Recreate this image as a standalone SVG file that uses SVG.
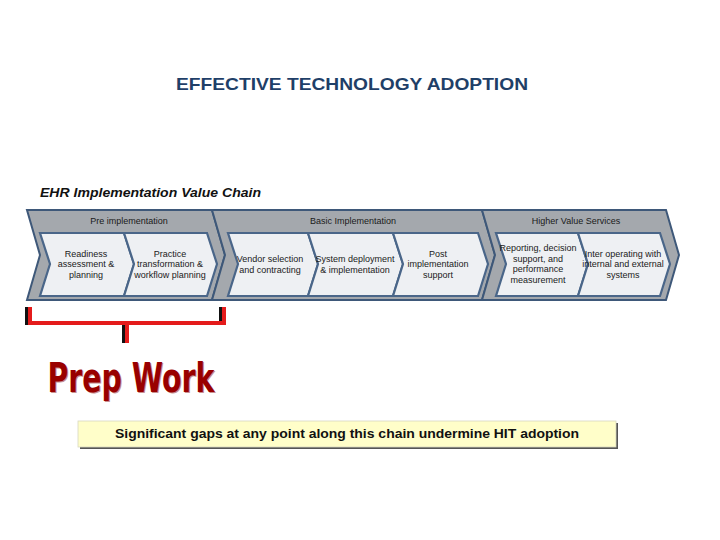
<svg xmlns="http://www.w3.org/2000/svg" width="720" height="540" viewBox="0 0 720 540">
<style>
.outer{fill:#a4a8ad;stroke:#3e5879;stroke-width:2;stroke-linejoin:miter}
.inner{fill:#eef0f3;stroke:#4a6689;stroke-width:2.2;stroke-linejoin:miter}
.hdr{font-family:"Liberation Sans",Arial,sans-serif;font-size:9px;fill:#1a1a1a;text-anchor:middle}
.lbl{font-family:"Liberation Sans",Arial,sans-serif;font-size:9px;fill:#1a1a1a;text-anchor:middle}
.red{stroke:#e41b1b;stroke-width:4;fill:none}
.shd{stroke:#111;stroke-width:4;fill:none}
</style>
<rect width="720" height="540" fill="#ffffff"/>
<g id="title">
<text x="352" y="90" font-family="Liberation Sans,Arial,sans-serif" font-size="17" font-weight="bold" fill="#1f3f68" text-anchor="middle" textLength="352" lengthAdjust="spacingAndGlyphs">EFFECTIVE TECHNOLOGY ADOPTION</text>
</g>
<g id="subtitle">
<text x="40" y="197" font-family="Liberation Sans,Arial,sans-serif" font-size="13" font-weight="bold" font-style="italic" fill="#111" textLength="221" lengthAdjust="spacingAndGlyphs">EHR Implementation Value Chain</text>
</g>
<g id="pre-implementation">
<path class="outer" d="M27,210 L212,210 L225,255 L212,300 L27,300 L40,255 Z"/>
<text class="hdr" x="129" y="224">Pre implementation</text>
</g>
<g id="basic-implementation">
<path class="outer" d="M212,210 L482,210 L495,255 L482,300 L212,300 L225,255 Z"/>
<text class="hdr" x="353" y="224">Basic Implementation</text>
</g>
<g id="higher-value">
<path class="outer" d="M482,210 L666,210 L679,255 L666,300 L482,300 L495,255 Z"/>
<text class="hdr" x="576" y="224">Higher Value Services</text>
</g>
<g id="readiness">
<path class="inner" d="M40,233 L124,233 L134,264 L124,296 L40,296 L50,264 Z"/>
<text class="lbl"><tspan x="86" y="257">Readiness</tspan><tspan x="86" y="267">assessment &amp;</tspan><tspan x="86" y="278">planning</tspan></text>
</g>
<g id="practice">
<path class="inner" d="M124,233 L207,233 L217,264 L207,296 L124,296 L134,264 Z"/>
<text class="lbl"><tspan x="170" y="257">Practice</tspan><tspan x="170" y="267">transformation &amp;</tspan><tspan x="170" y="278">workflow planning</tspan></text>
</g>
<g id="vendor">
<path class="inner" d="M228,233 L308,233 L318,264 L308,296 L228,296 L238,264 Z"/>
<text class="lbl"><tspan x="270" y="262">Vendor selection</tspan><tspan x="270" y="273">and contracting</tspan></text>
</g>
<g id="system">
<path class="inner" d="M308,233 L393,233 L403,264 L393,296 L308,296 L318,264 Z"/>
<text class="lbl"><tspan x="355" y="262">System deployment</tspan><tspan x="355" y="273">&amp; implementation</tspan></text>
</g>
<g id="post">
<path class="inner" d="M393,233 L478,233 L488,264 L478,296 L393,296 L403,264 Z"/>
<text class="lbl"><tspan x="438" y="257">Post</tspan><tspan x="438" y="267">implementation</tspan><tspan x="438" y="278">support</tspan></text>
</g>
<g id="reporting">
<path class="inner" d="M496,233 L578,233 L588,264 L578,296 L496,296 L506,264 Z"/>
<text class="lbl"><tspan x="538" y="251">Reporting, decision</tspan><tspan x="538" y="262">support, and</tspan><tspan x="538" y="272">performance</tspan><tspan x="538" y="283">measurement</tspan></text>
</g>
<g id="interop">
<path class="inner" d="M578,233 L660,233 L670,264 L660,296 L578,296 L588,264 Z"/>
<text class="lbl"><tspan x="623" y="257">Inter operating with</tspan><tspan x="623" y="267">internal and external</tspan><tspan x="623" y="278">systems</tspan></text>
</g>
<g id="connectors">
<path class="shd" d="M27,307 V325 M221,307 V325 M124,323 V343"/>
<path class="red" d="M30,307 V323 H224 V307 M127,323 V343"/>
</g>
<g id="prep-work">
<text x="132" y="393" font-family="Liberation Sans Narrow,DejaVu Sans Condensed,Arial Narrow,sans-serif" font-size="40" font-weight="bold" fill="#c89090" text-anchor="middle" textLength="167" lengthAdjust="spacingAndGlyphs">Prep Work</text>
<text x="131" y="392" font-family="Liberation Sans Narrow,DejaVu Sans Condensed,Arial Narrow,sans-serif" font-size="40" font-weight="bold" fill="#990000" text-anchor="middle" textLength="167" lengthAdjust="spacingAndGlyphs">Prep Work</text>
</g>
<g id="note">
<rect x="80" y="423" width="538" height="26" fill="#555"/>
<rect x="78" y="421" width="538" height="26" fill="#fffec9" stroke="#d8d8c0" stroke-width="0.8"/>
<text x="347" y="438" font-family="Liberation Sans,Arial,sans-serif" font-size="12" font-weight="bold" fill="#111" text-anchor="middle" textLength="464" lengthAdjust="spacingAndGlyphs">Significant gaps at any point along this chain undermine HIT adoption</text>
</g>
</svg>
